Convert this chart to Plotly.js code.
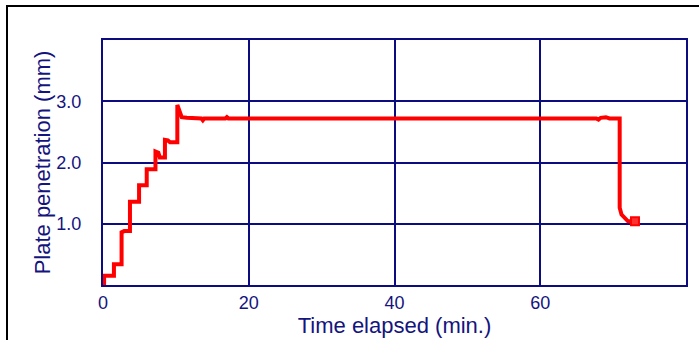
<!DOCTYPE html>
<html>
<head>
<meta charset="utf-8">
<script src="https://cdn.plot.ly/plotly-3.0.1.min.js"></script>
<style>
html, body { margin: 0; padding: 0; background: #ffffff; overflow: hidden; }
#frame { position: absolute; left: 6px; top: 5px; width: 800px; height: 500px; border: 2px solid #000; box-sizing: border-box; }
#chart { position: absolute; left: 0; top: 0; width: 699px; height: 340px; }
</style>
</head>
<body>
<div id="frame"></div>
<div id="chart"></div>
<script>
// Time elapsed (min.)
const timeMin = [
  0.15, 0.15, 1.5, 1.5, 2.55, 2.55, 2.9, 3.7, 3.7, 4.95, 4.95, 6.0, 6.0,
  7.2, 7.2, 7.6, 7.8, 8.5, 8.5, 8.9, 9.2, 10.2, 10.2, 10.5, 10.8, 11.5,
  12.5, 13.5, 13.7, 13.9, 16.8, 17.0, 17.2, 40.0, 67.7, 68.0, 68.3, 69.0,
  69.5, 70.9, 70.9, 71.15, 71.6, 72.05, 73.0
];
// Plate penetration (mm)
const penetration = [
  0.0, 0.15, 0.15, 0.34, 0.34, 0.86, 0.88, 0.88, 1.36, 1.36, 1.63, 1.63, 1.89,
  1.89, 2.18, 2.16, 2.08, 2.08, 2.37, 2.36, 2.33, 2.33, 2.94, 2.82, 2.74, 2.73,
  2.72, 2.72, 2.69, 2.72, 2.72, 2.74, 2.72, 2.72, 2.72, 2.70, 2.73, 2.74,
  2.72, 2.72, 1.26, 1.15, 1.09, 1.04, 1.04
];
const xTickVals = [0, 20, 40, 60];
const xTickText = ["0", "20", "40", "60"];
const yTickVals = [1, 2, 3];
const yTickText = ["1.0", "2.0", "3.0"];

const navy = "#0c0c80";
const textNavy = "#14147e";

const traces = [
  {
    x: timeMin, y: penetration, type: "scatter", mode: "lines",
    line: { color: "#ff0000", width: 4 }, hoverinfo: "skip", showlegend: false
  },
  {
    x: [timeMin[timeMin.length - 1]], y: [penetration[penetration.length - 1]],
    type: "scatter", mode: "markers",
    marker: { symbol: "square", size: 8, color: "#ff3030", line: { color: "#ff0000", width: 2 } },
    hoverinfo: "skip", showlegend: false
  }
];

const layout = {
  width: 699, height: 340,
  margin: { l: 103, r: 13, t: 40, b: 55, pad: 0 },
  paper_bgcolor: "rgba(0,0,0,0)",
  plot_bgcolor: "#ffffff",
  font: { family: "Liberation Sans, Arial, sans-serif", color: textNavy, size: 18 },
  xaxis: {
    range: [0, 80], tickvals: xTickVals, ticktext: xTickText,
    showgrid: true, gridcolor: navy, gridwidth: 2,
    showline: true, linecolor: navy, linewidth: 2, mirror: true,
    zeroline: false, ticks: "", automargin: false,
    tickfont: { size: 18, color: textNavy },
    title: { text: "Time elapsed (min.)", font: { size: 22, color: textNavy }, standoff: 1 }
  },
  yaxis: {
    range: [0, 4], tickvals: yTickVals, ticktext: yTickText,
    showgrid: true, gridcolor: navy, gridwidth: 2,
    showline: true, linecolor: navy, linewidth: 2, mirror: true,
    zeroline: false, ticks: "", automargin: false, ticklabelstandoff: 16,
    tickfont: { size: 18, color: textNavy },
    title: { text: "Plate penetration (mm)", font: { size: 22, color: textNavy }, standoff: 0 }
  }
};

Plotly.newPlot("chart", traces, layout, { displayModeBar: false, staticPlot: true });
</script>
</body>
</html>
